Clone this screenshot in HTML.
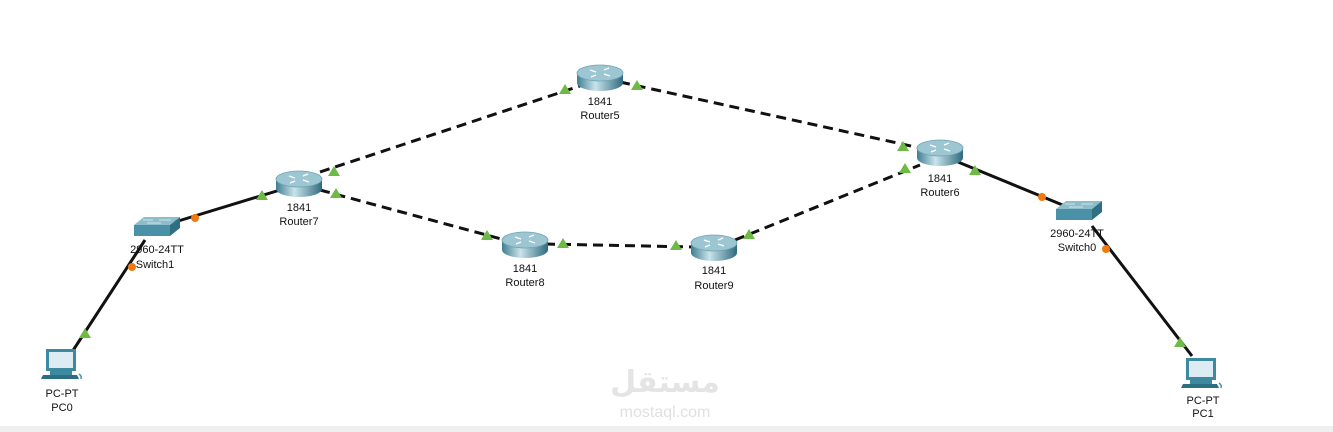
<!DOCTYPE html>
<html><head><meta charset="utf-8"><style>
html,body{margin:0;padding:0;background:#fff;}
svg{display:block;}
text{font-family:"Liberation Sans",sans-serif;font-size:11px;fill:#111;text-anchor:middle;}
</style></head><body>
<svg width="1333" height="432" viewBox="0 0 1333 432" xmlns="http://www.w3.org/2000/svg">
<defs>
<linearGradient id="rg" x1="0" x2="1" y1="0" y2="0">
<stop offset="0" stop-color="#3f7e92"/><stop offset="0.4" stop-color="#c9e3ea"/><stop offset="1" stop-color="#2f6a7e"/></linearGradient>
<g id="router">
<path d="M-23,-5 L-23,5 A23,8 0 0 0 23,5 L23,-5 Z" fill="url(#rg)"/>
<ellipse cx="0" cy="-5" rx="23" ry="8" fill="#9cc6d2" stroke="#6fa3b3" stroke-width="0.8"/>
<path d="M-10,-8 L-4,-6 M4,-4 L10,-2 M4,-8 L9,-10 M-9,-1 L-4,-3" stroke="#fff" stroke-width="1.3"/>
</g>
<g id="switch">
<polygon points="-21,-5 -11,-13 25,-13 15,-5" fill="#8dbccb"/>
<polygon points="-21,-5 15,-5 15,6 -21,6" fill="#4a90a6"/>
<polygon points="15,-5 25,-13 25,-2 15,6" fill="#2f6f84"/>
<path d="M-12,-10 L-2,-10 M4,-10 L16,-10 M-8,-7 L6,-7" stroke="#e4f2f6" stroke-width="0.8"/>
</g>
<g id="pc">
<rect x="-14" y="-17" width="30" height="22" fill="#3d8aa0"/>
<rect x="-11" y="-14" width="24" height="16" fill="#dcecf2"/>
<rect x="-10" y="5" width="22" height="4" fill="#3d8aa0"/>
<polygon points="-17,9 17,9 19,13 -19,13" fill="#2c6f84"/>
<path d="M19,8 q3,2 2,5" stroke="#4a90a6" fill="none" stroke-width="1.5"/>
</g>
<polygon id="tri" points="0,-6 6,4 -6,4" fill="#6dbb46"/>
</defs>
<rect x="0" y="426" width="1333" height="6" fill="#efefef"/>
<g stroke="#111" stroke-width="3" fill="none">
<line x1="72" y1="352" x2="145" y2="240"/>
<line x1="175" y1="222" x2="280" y2="190"/>
<line x1="958" y1="162" x2="1065" y2="206"/>
<line x1="1092" y1="226" x2="1192" y2="356"/>
</g>
<g stroke="#111" stroke-width="3" fill="none" stroke-dasharray="10,6">
<line x1="320" y1="172" x2="580" y2="86"/>
<line x1="320" y1="190" x2="505" y2="240"/>
<line x1="545" y1="244" x2="695" y2="247"/>
<line x1="735" y1="240" x2="920" y2="165"/>
<line x1="620" y1="82" x2="920" y2="148"/>
</g>
<use href="#tri" x="85" y="334"/>
<use href="#tri" x="262" y="196"/>
<use href="#tri" x="334" y="172"/>
<use href="#tri" x="565" y="90"/>
<use href="#tri" x="336" y="194"/>
<use href="#tri" x="487" y="236"/>
<use href="#tri" x="563" y="244"/>
<use href="#tri" x="676" y="246"/>
<use href="#tri" x="749" y="235"/>
<use href="#tri" x="905" y="169"/>
<use href="#tri" x="637" y="86"/>
<use href="#tri" x="903" y="147"/>
<use href="#tri" x="975" y="171"/>
<use href="#tri" x="1180" y="343"/>
<g fill="#f07a10">
<circle cx="132" cy="267" r="4"/><circle cx="195" cy="218" r="4"/>
<circle cx="1042" cy="197" r="4"/><circle cx="1106" cy="249" r="4"/>
</g>
<use href="#router" x="600" y="78"/>
<use href="#router" x="299" y="184"/>
<use href="#router" x="940" y="153"/>
<use href="#router" x="525" y="245"/>
<use href="#router" x="714" y="248"/>
<use href="#switch" x="155" y="230"/>
<use href="#switch" x="1077" y="214"/>
<use href="#pc" x="60" y="366"/>
<use href="#pc" x="1200" y="375"/>
<text x="600" y="105">1841</text><text x="600" y="119">Router5</text>
<text x="299" y="211">1841</text><text x="299" y="225">Router7</text>
<text x="940" y="182">1841</text><text x="940" y="196">Router6</text>
<text x="525" y="272">1841</text><text x="525" y="286">Router8</text>
<text x="714" y="274">1841</text><text x="714" y="289">Router9</text>
<text x="157" y="253">2960-24TT</text><text x="155" y="268">Switch1</text>
<text x="1077" y="237">2960-24TT</text><text x="1077" y="251">Switch0</text>
<text x="62" y="397">PC-PT</text><text x="62" y="411">PC0</text>
<text x="1203" y="404">PC-PT</text><text x="1203" y="417">PC1</text>
<text x="665" y="392" style="font-size:30px;font-weight:bold;fill:#e4e4e4;font-family:'DejaVu Sans',sans-serif">مستقل</text>
<text x="665" y="417" style="font-size:16px;fill:#e0e0e0">mostaql.com</text>
</svg>
</body></html>
